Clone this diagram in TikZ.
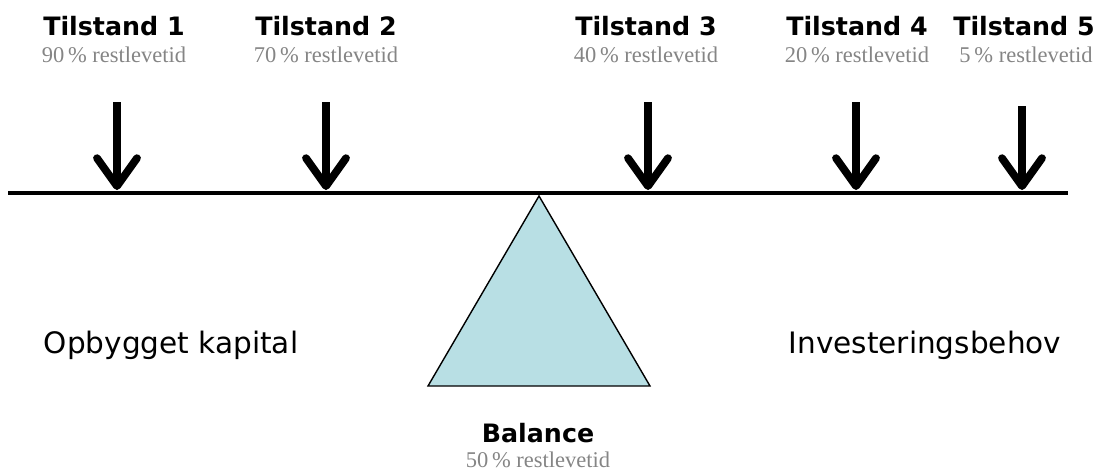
\documentclass[tikz,border=0pt]{standalone}
\usepackage{fontspec}
\setmainfont{Liberation Serif}
\newfontfamily\verd{DejaVu Sans}
\usetikzlibrary{arrows.meta}
\definecolor{balblue}{HTML}{B8DFE4}
\definecolor{restgray}{HTML}{858585}
\begin{document}
\begin{tikzpicture}
    [x=0.025cm,y=-0.025cm,
     title/.style={anchor=base,font=\verd\bfseries\fontsize{18}{20}\selectfont},
     rest/.style={anchor=base,text=restgray,font=\fontsize{16}{18}\selectfont},
     side/.style={anchor=base,font=\verd\fontsize{21}{24}\selectfont},
     load/.style={line width=5.5pt,-{Straight Barb[length=7mm,width=10mm,round]}}]
    \useasboundingbox (0,0) rectangle (1105,470);
    % labels over the beam
    \node[title] (T1) at (114,35) {Tilstand 1};
    \node[rest] (R1) at (114,62) {90\,\% restlevetid};
    \node[title] (T2) at (326,35) {Tilstand 2};
    \node[rest] (R2) at (326,62) {70\,\% restlevetid};
    \node[title] (T3) at (646,35) {Tilstand 3};
    \node[rest] (R3) at (646,62) {40\,\% restlevetid};
    \node[title] (T4) at (857,35) {Tilstand 4};
    \node[rest] (R4) at (857,62) {20\,\% restlevetid};
    \node[title] (T5) at (1024,35) {Tilstand 5};
    \node[rest] (R5) at (1026,62) {5\,\% restlevetid};

    % beam and fulcrum
    \coordinate (L) at (8,193);
    \coordinate (R) at (1068,193);
    \draw[line width=3.2pt] (L) -- (R);
    \draw[fill=balblue,line width=1pt,line join=miter]
      (539,196) -- (650,386) -- (428,386) -- cycle;

    % loads
    \coordinate (a1) at (117,102);
    \coordinate (b1) at (117,190);
    \coordinate (a2) at (326,102);
    \coordinate (b2) at (326,190);
    \coordinate (a3) at (648,102);
    \coordinate (b3) at (648,190);
    \coordinate (a4) at (856,102);
    \coordinate (b4) at (856,190);
    \coordinate (a5) at (1022,106);
    \coordinate (b5) at (1022,190);
    \draw[load] (a1) -- (b1);
    \draw[load] (a2) -- (b2);
    \draw[load] (a3) -- (b3);
    \draw[load] (a4) -- (b4);
    \draw[load] (a5) -- (b5);

    \node[side] (K) at (171,353) {Opbygget kapital};
    \node[side] (I) at (925,353) {Investeringsbehov};
    \node[title] (B) at (538,442) {Balance};
    \node[rest] (R0) at (538,467) {50\,\% restlevetid};
  \end{tikzpicture}
\end{document}
